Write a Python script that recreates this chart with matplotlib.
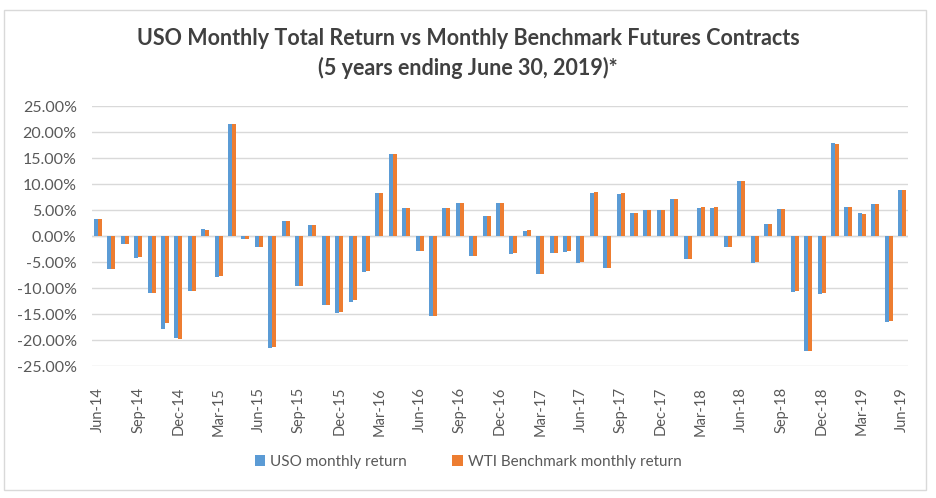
import numpy as np
import matplotlib.pyplot as plt
from matplotlib.patches import Rectangle

plt.rcParams['font.family'] = ['Lato', 'DejaVu Sans']

# monthly returns (%) Jun-14 .. Jun-19
months = ["Jun-14", "Jul-14", "Aug-14", "Sep-14", "Oct-14", "Nov-14", "Dec-14",
          "Jan-15", "Feb-15", "Mar-15", "Apr-15", "May-15", "Jun-15", "Jul-15",
          "Aug-15", "Sep-15", "Oct-15", "Nov-15", "Dec-15", "Jan-16", "Feb-16",
          "Mar-16", "Apr-16", "May-16", "Jun-16", "Jul-16", "Aug-16", "Sep-16",
          "Oct-16", "Nov-16", "Dec-16", "Jan-17", "Feb-17", "Mar-17", "Apr-17",
          "May-17", "Jun-17", "Jul-17", "Aug-17", "Sep-17", "Oct-17", "Nov-17",
          "Dec-17", "Jan-18", "Feb-18", "Mar-18", "Apr-18", "May-18", "Jun-18",
          "Jul-18", "Aug-18", "Sep-18", "Oct-18", "Nov-18", "Dec-18", "Jan-19",
          "Feb-19", "Mar-19", "Apr-19", "May-19", "Jun-19"]

uso = [3.2, -6.4, -1.6, -4.2, -11.0, -17.9, -19.7,
       -10.6, 1.3, -7.8, 21.5, -0.6, -2.2, -21.5,
       2.8, -9.7, 2.1, -13.3, -14.9, -12.6, -6.9,
       8.2, 15.7, 5.3, -2.9, -15.4, 5.4, 6.3,
       -3.8, 3.8, 6.3, -3.4, 1.0, -7.4, -3.3,
       -3.0, -5.1, 8.3, -6.2, 8.1, 4.4, 5.0,
       5.0, 7.2, -4.5, 5.4, 5.4, -2.2, 10.6,
       -5.1, 2.4, 5.1, -10.7, -22.1, -11.2, 17.8,
       5.6, 4.4, 6.2, -16.5, 8.8]

wti = [3.2, -6.3, -1.5, -4.1, -10.9, -16.8, -19.9,
       -10.5, 1.2, -7.7, 21.5, -0.5, -2.1, -21.4,
       2.9, -9.6, 2.1, -13.2, -14.7, -12.4, -6.8,
       8.3, 15.8, 5.3, -2.8, -15.3, 5.4, 6.4,
       -3.8, 3.9, 6.4, -3.3, 1.1, -7.3, -3.2,
       -2.9, -5.0, 8.4, -6.1, 8.2, 4.5, 5.0,
       5.0, 7.2, -4.4, 5.5, 5.5, -2.1, 10.6,
       -5.0, 2.3, 5.2, -10.6, -22.2, -11.0, 17.7,
       5.5, 4.3, 6.1, -16.4, 8.8]

blue = '#5B9BD5'
orange = '#ED7D31'
grey_txt = '#595959'

fig = plt.figure(figsize=(9.36, 4.98), dpi=100)
fig.patches.append(Rectangle((4 / 936, 8 / 498), 922 / 936, 480 / 498,
                             transform=fig.transFigure, fill=False,
                             edgecolor='#D9D9D9', lw=1))

ax = fig.add_axes([92 / 936, 1 - 366 / 498, 816 / 936, 260 / 498])
x = np.arange(len(months))
w = 0.3
ax.bar(x - w / 2, uso, w, color=blue, label='USO monthly return', zorder=3)
ax.bar(x + w / 2, wti, w, color=orange, label='WTI Benchmark monthly return', zorder=3)

ax.set_ylim(-25, 25)
ax.set_xlim(-0.45, len(months) - 0.55)
yt = np.arange(-25, 26, 5)
ax.set_yticks(yt)
ax.set_yticklabels([f"{v:.2f}%" for v in yt], fontsize=11.5, color=grey_txt)
ax.yaxis.grid(True, color='#D9D9D9', lw=1, zorder=0)
ax.axhline(0, color='#D9D9D9', lw=1, zorder=1)
ax.set_xticks(x[::3])
ax.set_xticklabels(months[::3], rotation=90, fontsize=10.5, color=grey_txt)
ax.tick_params(length=0)
ax.tick_params(axis='y', pad=11)
ax.tick_params(axis='x', pad=15)
for s in ax.spines.values():
    s.set_visible(False)

fig.text(0.5, 1 - 38 / 498, "USO Monthly Total Return vs Monthly Benchmark Futures Contracts",
         ha='center', va='center', fontsize=15.5, fontweight='bold', color='#404040')
fig.text(0.5, 1 - 68 / 498, "(5 years ending June 30, 2019)*",
         ha='center', va='center', fontsize=15.5, fontweight='bold', color='#404040')

leg = fig.legend(loc='center', bbox_to_anchor=(0.5, 1 - 462 / 498), ncol=2, frameon=False,
                 fontsize=11, handlelength=0.7, handleheight=0.7, columnspacing=3,
                 handletextpad=0.3)
for t in leg.get_texts():
    t.set_color(grey_txt)

fig.savefig('out.png', dpi=100)
